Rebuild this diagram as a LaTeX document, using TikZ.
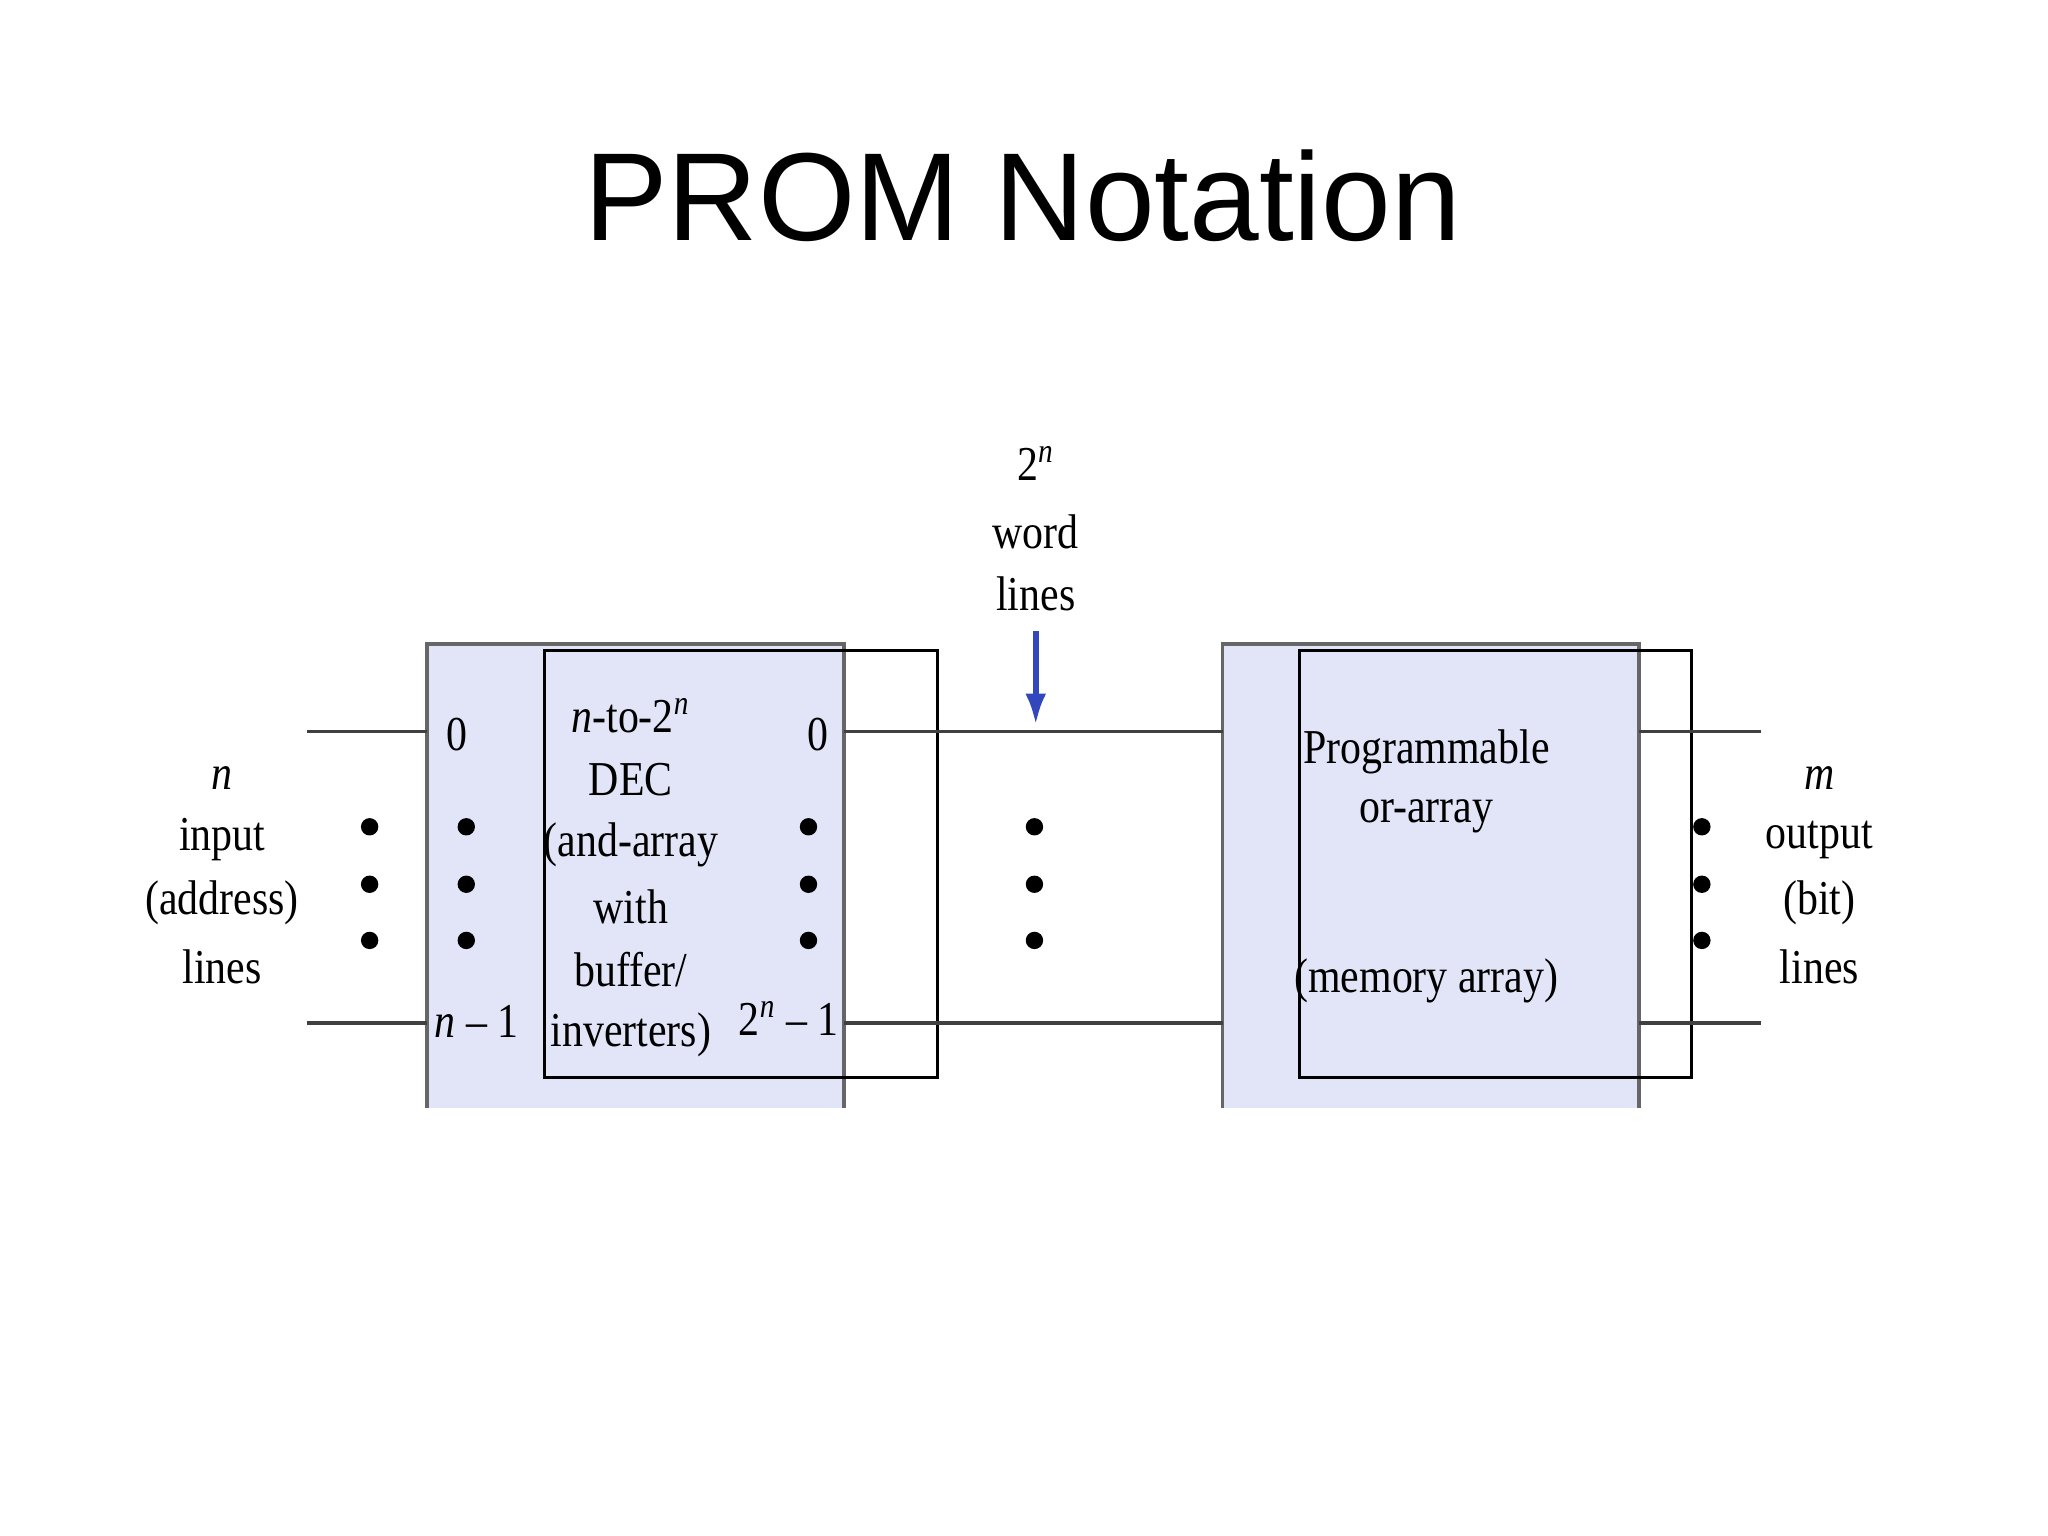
\documentclass[tikz,border=0pt]{standalone}
\usepackage{fontspec}
\usetikzlibrary{arrows.meta}
\setmainfont[FakeStretch=0.86]{Liberation Serif}
\newfontfamily\titlefont{Liberation Sans}
\definecolor{boxc}{RGB}{226,229,247}
\definecolor{arrc}{RGB}{50,70,190}
\begin{document}
\begin{tikzpicture}[x=0.013196cm,y=-0.013196cm,
  lbl/.style={font=\fontsize{14}{16}\selectfont, inner sep=0pt, anchor=center},
  wire/.style={draw=black!75, line width=1.1pt},
  dotn/.style={circle, fill=black, inner sep=0pt, minimum size=5pt},
  boxfill/.style={fill=boxc},
  edge/.style={draw=black!60, line width=1pt}]
\useasboundingbox (0,0) rectangle (1568,1176);
\node[font=\titlefont\fontsize{36}{40}\selectfont] (title) at (783,150) {PROM Notation};
% boxes
\fill[boxfill] (327,493) rectangle (646,848);
\fill[boxfill] (936,493) rectangle (1255,848);
\draw[edge] (327,848) -- (327,493) -- (646,493) -- (646,848);
\draw[edge] (936,848) -- (936,493) -- (1255,493) -- (1255,848);
\draw[black, line width=0.8pt] (417,498) rectangle (718,825);
\draw[black, line width=0.8pt] (995,498) rectangle (1295,825);
% wires
\coordinate (a1) at (235,560); \coordinate (a2) at (327,560);
\coordinate (b1) at (235,783); \coordinate (b2) at (327,783);
\coordinate (c1) at (646,560); \coordinate (c2) at (936,560);
\coordinate (d1) at (646,783); \coordinate (d2) at (936,783);
\coordinate (e1) at (1255,560); \coordinate (e2) at (1348,560);
\coordinate (f1) at (1255,783); \coordinate (f2) at (1348,783);
\draw[wire] (a1) -- (a2); \draw[wire] (b1) -- (b2);
\draw[wire] (c1) -- (c2); \draw[wire] (d1) -- (d2);
\draw[wire] (e1) -- (e2); \draw[wire] (f1) -- (f2);
% dots
\foreach \x in {283,357,619,792,1303}{
  \foreach \y in {633,677,720}{ \node[dotn] at (\x,\y) {}; }}
% arrow
\coordinate (ar1) at (793,483); \coordinate (ar2) at (793,555);
\draw[arrc, line width=1.6pt, -{Latex[length=9pt,width=6pt]}] (ar1) -- (ar2);
% labels
\node[lbl] (t1) at (793,355) {2\textsuperscript{\textit{n}}};
\node[lbl] (t2) at (793,407) {word};
\node[lbl] (t3) at (793,455) {lines};
\node[lbl] (l1) at (170,596) {\textit{n}};
\node[lbl] (l2) at (170,643) {input};
\node[lbl] (l3) at (170,691) {(address)};
\node[lbl] (l4) at (170,740) {lines};
\node[lbl] (r1) at (1393,596) {\textit{m}};
\node[lbl] (r2) at (1393,643) {output};
\node[lbl] (r3) at (1393,691) {(bit)};
\node[lbl] (r4) at (1393,740) {lines};
\node[lbl] (z1) at (350,562) {0};
\node[lbl] (z2) at (365,782) {\textit{n} – 1};
\node[lbl] (k1) at (483,548) {\textit{n}-to-2\textsuperscript{\textit{n}}};
\node[lbl] (k2) at (483,597) {DEC};
\node[lbl] (k3) at (483,647) {(and-array};
\node[lbl] (k4) at (483,694) {with};
\node[lbl] (k5) at (483,742) {buffer/};
\node[lbl] (k6) at (483,792) {inverters)};
\node[lbl] (z3) at (626,562) {0};
\node[lbl] (z4) at (604,780) {2\textsuperscript{\textit{n}} – 1};
\node[lbl] (p1) at (1092,576) {Programmable};
\node[lbl] (p2) at (1092,625) {or-array};
\node[lbl] (p3) at (1092,751) {(memory array)};
\end{tikzpicture}
\end{document}
